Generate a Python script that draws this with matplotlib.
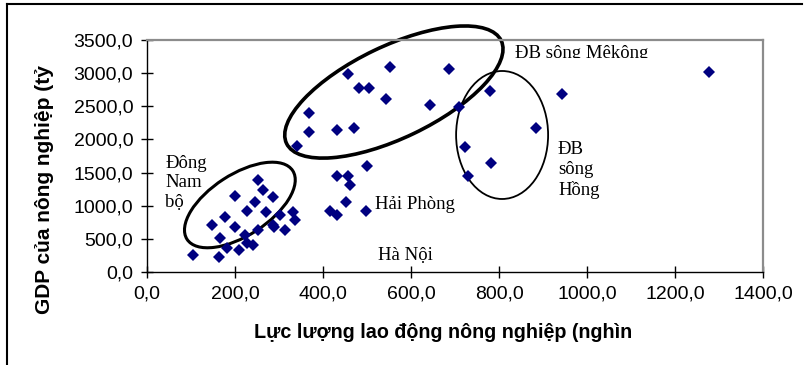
import numpy as np
import matplotlib.pyplot as plt
from matplotlib.patches import Ellipse, Rectangle
from matplotlib.lines import Line2D
from matplotlib.transforms import ScaledTranslation
from matplotlib.ticker import FuncFormatter

# agricultural labour force (thousand) vs agricultural GDP (billion) by province
lao_dong = [104, 164, 147, 177, 200, 200, 166, 181, 209, 227, 240, 223,
            227, 245, 253, 264, 286, 270, 252, 286, 314, 302, 332, 336, 288,
            431, 457, 461, 452, 416, 432, 498, 499,
            340, 368, 368, 431, 470, 456, 482, 505, 543, 552, 643, 686, 709,
            780, 943, 883, 722, 782, 730, 1277]
gdp_nn = [256, 231, 709, 834, 1151, 683, 513, 362, 332, 437, 407, 558,
          920, 1060, 1388, 1237, 1136, 910, 634, 709, 634, 860, 910, 784, 680,
          1448, 1448, 1312, 1060, 920, 860, 925, 1604,
          1901, 2399, 2117, 2142, 2168, 2987, 2771, 2771, 2605, 3093, 2519, 3062, 2494,
          2731, 2685, 2172, 1893, 1649, 1448, 3017]

x_ticks = [0, 200, 400, 600, 800, 1000, 1200, 1400]
y_ticks = [0, 500, 1000, 1500, 2000, 2500, 3000, 3500]

# region labels: text, x, y
nhan_vung = [("Đông\nNam\nbộ", 41, 1343),
             ("Hải Phòng", 518, 1011),
             ("Hà Nội", 525, 256),
             ("ĐB\nsông\nHồng", 934, 1539)]

# ellipses around regions: centre (data), width/height (inch), angle, line width
vong = [((211, 1011), 1.26, 0.61, 33, 2.2),
        ((561, 2715), 2.38, 0.92, 25.6, 2.6),
        ((807, 2067), 0.92, 1.28, 0, 1.3)]

fig = plt.figure(figsize=(8.07, 3.65), dpi=100)
ax = fig.add_axes([0.1822, 0.2548, 0.7633, 0.6356])

ax.plot(lao_dong, gdp_nn, linestyle="none", marker="D", ms=6,
        color="#000080", markeredgewidth=0)

ax.set_xlim(0, 1400)
ax.set_ylim(0, 3500)
ax.set_xticks(x_ticks)
ax.set_yticks(y_ticks)
fmt = FuncFormatter(lambda v, p: ("%.1f" % v).replace(".", ","))
ax.xaxis.set_major_formatter(fmt)
ax.yaxis.set_major_formatter(fmt)
ax.tick_params(direction="inout", length=8, width=1, color="black",
               labelsize=14, pad=6)
for lbl in ax.get_xticklabels() + ax.get_yticklabels():
    lbl.set_family("Liberation Sans")

for s in ("left", "bottom"):
    ax.spines[s].set_color("black")
    ax.spines[s].set_linewidth(1.0)
for s in ("top", "right"):
    ax.spines[s].set_color("#8c8c8c")
    ax.spines[s].set_linewidth(1.6)

for txt, x, y in nhan_vung:
    ax.text(x, y, txt, family="Liberation Serif", fontsize=13.5,
            ha="left", va="center", linespacing=1.2)

# Mekong label is cut off along its lower edge
t = ax.text(836, 3289, "ĐB sông Mêkông", family="Liberation Serif",
            fontsize=13.5, ha="left", va="center")
t.set_clip_path(Rectangle((0, (365 - 58) / 365), 1, 1, transform=fig.transFigure))
t.set_clip_on(True)

for (cx, cy), w, h, ang, lw in vong:
    tr = fig.dpi_scale_trans + ScaledTranslation(cx, cy, ax.transData)
    ax.add_patch(Ellipse((0, 0), w, h, angle=ang, transform=tr,
                         fill=False, edgecolor="black", linewidth=lw,
                         clip_on=False))

fig.text(443 / 807, 1 - 333 / 365, "Lực lượng lao động nông nghiệp (nghìn",
         family="Liberation Sans", fontsize=14.2, fontweight="bold",
         ha="center", va="center")
fig.text(45 / 807, 1 - 190 / 365, "GDP của nông nghiệp (tỷ",
         family="Liberation Sans", fontsize=15, fontweight="bold",
         rotation=90, ha="center", va="center")

# chart frame, top and left edges
fig.add_artist(Line2D([7 / 807, 802 / 807], [1 - 4 / 365, 1 - 4 / 365],
                      transform=fig.transFigure, color="black", lw=1.5))
fig.add_artist(Line2D([7 / 807, 7 / 807], [1 - 4 / 365, 0],
                      transform=fig.transFigure, color="black", lw=1.5))

fig.savefig("out.png", dpi=100)
